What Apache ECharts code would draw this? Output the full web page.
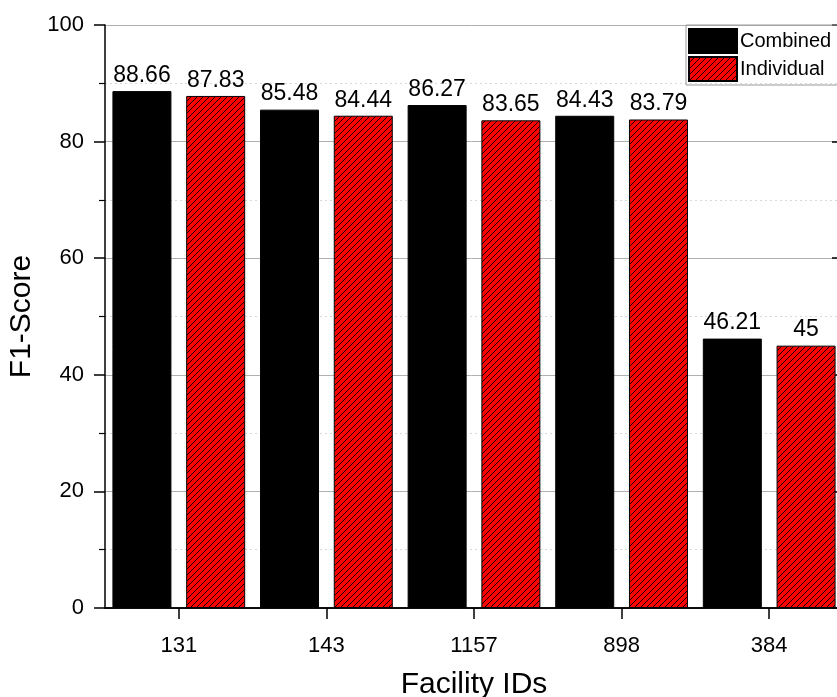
<!DOCTYPE html>
<html><head><meta charset="utf-8">
<script src="https://cdn.jsdelivr.net/npm/echarts@6/dist/echarts.min.js"></script>
<style>html,body{margin:0;padding:0;background:#fff}#c{width:837px;height:697px}</style>
</head><body><div id="c"></div>
<script>
const categories = ['131', '143', '1157', '898', '384'];
const combined = [88.66, 85.48, 86.27, 84.43, 46.21];
const individual = [87.83, 84.44, 83.65, 83.79, 45];
const yTicks = [0, 20, 40, 60, 80, 100];

function hatch() {
  const c = document.createElement('canvas');
  c.width = 6; c.height = 6;
  const g = c.getContext('2d');
  g.fillStyle = '#ff0000';
  g.fillRect(0, 0, 6, 6);
  g.strokeStyle = '#000';
  g.lineWidth = 0.9;
  g.beginPath();
  g.moveTo(-1, 7); g.lineTo(7, -1);
  g.moveTo(-4, 4); g.lineTo(4, -4);
  g.moveTo(2, 10); g.lineTo(10, 2);
  g.stroke();
  return c;
}
const font = 'Liberation Sans, Arial, sans-serif';
const chart = echarts.init(document.getElementById('c'));
const lbl = {show: true, position: 'top', distance: 4, fontSize: 23, color: '#000', fontFamily: font};
chart.setOption({
  animation: false,
  textStyle: {fontFamily: font},
  grid: {left: 105, top: 25, width: 738, height: 583, containLabel: false, outerBoundsMode: 'none'},
  legend: {
    left: 686, top: 25, orient: 'vertical', icon: 'rect', itemWidth: 48, itemHeight: 24, itemGap: 2,
    borderColor: '#999', borderWidth: 1, padding: [3, 10, 3, 2], borderRadius: 0,
    textStyle: {fontSize: 20, color: '#000', fontFamily: font, padding: [0,0,0,-2]},
    data: ['Combined', 'Individual']
  },
  xAxis: [{
    type: 'category', data: categories,
    name: 'Facility IDs', nameLocation: 'middle', nameGap: 62,
    nameTextStyle: {fontSize: 30, color: '#000'},
    axisLine: {lineStyle: {color: '#000', width: 1.5}},
    axisTick: {show: true, interval: 0, alignWithLabel: true, length: 11, lineStyle: {color: '#000', width: 1.5}},
    axisLabel: {fontSize: 22, color: '#000', margin: 27}
  }, {
    type: 'category', data: categories, position: 'top',
    axisLine: {show: true, lineStyle: {color: '#000', width: 1.5}},
    axisTick: {show: false}, axisLabel: {show: false}
  }],
  yAxis: [{
    type: 'value', min: 0, max: 100, interval: 20,
    name: 'F1-Score', nameLocation: 'middle', nameGap: 55,
    nameTextStyle: {fontSize: 30, color: '#000'},
    axisLine: {show: true, lineStyle: {color: '#000', width: 1.5}},
    axisTick: {show: true, length: 11, lineStyle: {color: '#000', width: 1.5}},
    minorTick: {show: true, splitNumber: 2, length: 6, lineStyle: {color: '#000', width: 1.2}},
    axisLabel: {fontSize: 22, color: '#000', margin: 21,
      formatter: v => yTicks.includes(v) ? String(v) : ''},
    splitLine: {show: true, lineStyle: {color: '#b0b0b0', width: 1}},
    minorSplitLine: {show: true, lineStyle: {color: '#d8d8d8', width: 1, type: [2, 3]}}
  }, {
    type: 'value', min: 0, max: 100, interval: 20, position: 'right',
    axisLine: {show: true, lineStyle: {color: '#000', width: 1.5}},
    axisTick: {show: true, inside: true, length: 11, lineStyle: {color: '#000', width: 1.5}},
    minorTick: {show: true, splitNumber: 2, length: 6, lineStyle: {color: '#000', width: 1.2}},
    axisLabel: {show: false}, splitLine: {show: false}
  }],
  series: [{
    name: 'Combined', type: 'bar', data: combined, barWidth: 59, barGap: '25%',
    itemStyle: {color: '#000', borderColor: '#000', borderWidth: 1},
    label: lbl
  }, {
    name: 'Individual', type: 'bar', data: individual, barWidth: 59,
    itemStyle: {color: {image: hatch(), repeat: 'repeat'}, borderColor: '#000', borderWidth: 1},
    label: lbl
  }]
});
</script></body></html>
